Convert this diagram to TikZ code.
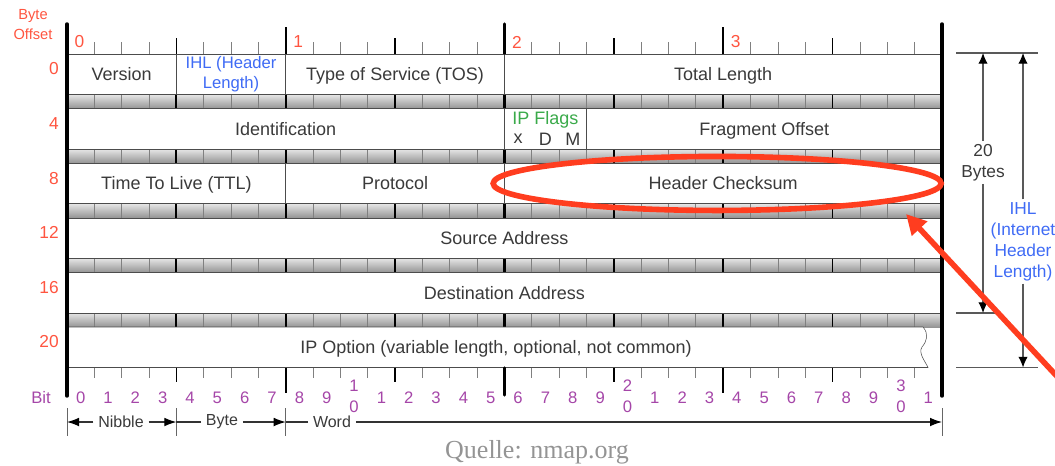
\documentclass[tikz,border=0pt]{standalone}
\usepackage{fontspec}
\setmainfont{Liberation Sans}
\newfontfamily\quellefont{Liberation Serif}
\usetikzlibrary{arrows.meta,positioning,calc}
\definecolor{offred}{HTML}{FF5540}
\definecolor{bitpurple}{HTML}{A546A8}
\definecolor{ihlblue}{HTML}{3F6BF5}
\definecolor{flaggreen}{HTML}{3AAA4A}
\definecolor{ink}{HTML}{3A3A3A}
\definecolor{hlred}{HTML}{FF3D1F}
\newcommand{\bitx}[1]{{67+27.34*(#1)}}
\def\bw{20.505pt}

\begin{document}
\begin{tikzpicture}[x=0.75pt,y=-0.75pt,>=Latex,
 f/.style={draw=black!70,fill=white,inner sep=0pt,minimum height=30.375pt,text=ink,text height=9.7pt,text depth=0pt,font=\fontsize{13.5}{16}\selectfont},
 t/.style={text=ink,font=\fontsize{13.5}{16}\selectfont,inner sep=1pt},
 off/.style={text=offred,font=\fontsize{13}{15}\selectfont,inner sep=0pt},
 bit/.style={text=bitpurple,font=\fontsize{12.5}{14}\selectfont,inner sep=0pt},
 side/.style={text=ink,align=center,font=\fontsize{13}{15.75}\selectfont,inner sep=2pt},
 sa/.style={draw=black!65,line width=.8pt,-{Latex[length=8pt,width=7pt,color=black]}},
 sl/.style={draw=black!65,line width=.8pt},
 dim/.style={text=ink,font=\fontsize{12}{13}\selectfont,inner sep=3.5pt},
 da/.style={draw=black!80,line width=.8pt,-{Latex[length=9pt,width=6.5pt,color=black]}},
 hl/.style={draw=hlred,line width=4.2pt}]
\useasboundingbox (0,0) rectangle (1055,465);

% grey strips between the rows
\foreach \k in {0,...,4}{
  \pgfmathsetmacro\st{94.5+54.6*\k}
  \shade[top color=black!10,bottom color=black!42] (67,\st) rectangle (942,\st+14.1);
  \foreach \b in {1,...,31}{
    \pgfmathtruncatemacro\nib{mod(\b,4)}
    \ifnum\nib=0 \draw[line width=1.3pt] (\bitx{\b},\st) -- (\bitx{\b},\st+14.1);
    \else \draw[black!50,line width=.5pt] (\bitx{\b},\st) -- (\bitx{\b},\st+14.1); \fi
  }
  \draw[line width=2.4pt] (\bitx{16},\st) -- (\bitx{16},\st+14.1);
}

% rows
\node[f,minimum width=4*\bw] (version) at (\bitx{2},74.25) {Version};
\node[f,minimum width=4*\bw,text=ihlblue,align=center,text height=,text depth=,font=\fontsize{12.5}{14.5}\selectfont] (ihl) at (\bitx{6},74.25) {IHL (Header\\Length)};
\node[f,minimum width=8*\bw] (tos) at (\bitx{12},74.25) {Type of Service (TOS)};
\node[f,minimum width=16*\bw] (totlen) at (\bitx{24},74.25) {Total Length};
\node[f,minimum width=16*\bw] (ident) at (\bitx{8},128.85) {Identification};
\node[f,minimum width=3*\bw] (flags) at (\bitx{17.5},128.85) {};
\node[f,minimum width=13*\bw] (fragoff) at (\bitx{25.5},128.85) {Fragment Offset};
\node[t,text=flaggreen] (flagname) at (\bitx{17.5},119.5) {IP Flags};
\node[t] (flagx) at (\bitx{16.5},139) {x};
\node[t] (flagd) at (\bitx{17.5},139) {D};
\node[t] (flagm) at (\bitx{18.5},139) {M};
\node[f,minimum width=8*\bw] (ttl) at (\bitx{4},183.45) {Time To Live (TTL)};
\node[f,minimum width=8*\bw] (proto) at (\bitx{12},183.45) {Protocol};
\node[f,minimum width=16*\bw] (checksum) at (\bitx{24},183.45) {Header Checksum};
\node[f,minimum width=32*\bw] (src) at (\bitx{16},238.05) {Source Address};
\node[f,minimum width=32*\bw] (dst) at (\bitx{16},292.65) {Destination Address};
\draw[draw=black!70,fill=white] (67,327) -- (923,327) .. controls (929,334) and (927,341) .. (922,347)
  .. controls (918,353) and (925,361) .. (928,367.5) -- (67,367.5) -- cycle;
\node[t,text height=9.7pt,text depth=0pt] (ipopt) at (496,347.25) {IP Option (variable length, optional, not common)};

% rulers above and below
\foreach \b in {1,...,31}{
  \pgfmathsetmacro\tl{ifthenelse(mod(\b,8)==0,27,ifthenelse(mod(\b,4)==0,16,12))}
  \pgfmathsetmacro\tw{ifthenelse(mod(\b,8)==0,1.6,ifthenelse(mod(\b,4)==0,1.2,.5))}
  \pgfmathtruncatemacro\tc{ifthenelse(mod(\b,4)==0,100,50)}
  \draw[black!\tc,line width=\tw pt] (\bitx{\b},53.5) -- ++(0,-\tl);
  \draw[black!\tc,line width=\tw pt] (\bitx{\b},367.5) -- ++(0,\tl-2);
}
\draw[line width=2.6pt,line cap=round] (67,24) -- (67,396);
\draw[line width=2.6pt,line cap=round] (942,24) -- (942,396);
\draw[line width=2.6pt,line cap=round] (\bitx{16},24) -- (\bitx{16},53);
\draw[line width=2.6pt,line cap=round] (\bitx{16},368) -- (\bitx{16},395);

% byte offsets
\node[off,align=center,font=\fontsize{11}{15}\selectfont] (byteoff) at (33,25) {Byte\\Offset};
\foreach \i in {0,...,3}
  \node[off] (top\i) at (\bitx{8*\i+0.457},42) {\i};
\foreach \k/\o in {0/0,1/4,2/8,3/12,4/16,5/20}
  \node[off,anchor=east] (row\o) at (59,{54+54.6*\k+15}) {\o};

% bit numbers
\node[bit,anchor=east] (bitname) at (51,398) {Bit};
\foreach \b in {0,...,31}{
  \pgfmathtruncatemacro\d{mod(\b,10)}
  \pgfmathtruncatemacro\tens{\b/10}
  \ifnum\d=0 \ifnum\b>0
    \node[bit] (bit\b) at (\bitx{\b+0.5},386) {\tens};
    \node[bit] (bitz\b) at (\bitx{\b+0.5},407) {0};
  \else \node[bit] (bit\b) at (\bitx{\b+0.5},398) {\d}; \fi
  \else \node[bit] (bit\b) at (\bitx{\b+0.5},398) {\d}; \fi
}

% nibble, byte, word
\coordinate (m0) at (67,422);
\coordinate (m4) at (\bitx{4},422);
\coordinate (m8) at (\bitx{8},422);
\coordinate (m32) at (942,422);
\foreach \c in {m0,m4,m8,m32} \draw[black!60,line width=.7pt] (\c) ++(0,-14) -- ++(0,28);
\node[dim] (nibble) at (121,422) {Nibble};
\node[dim] (byte) at (222,422) {Byte};
\node[dim] (word) at (332,422) {Word};
\draw[da] (nibble) -- (m0); \draw[da] (nibble) -- (m4);
\draw[draw=black!80,line width=.8pt] (byte) -- (m4); \draw[da] (byte) -- (m8);
\draw[draw=black!80,line width=.8pt] (word) -- (m8); \draw[da] (word) -- (m32);

% header length on the right
\coordinate (top20) at (983,53); \coordinate (bot20) at (983,313);
\coordinate (topihl) at (1023,53); \coordinate (botihl) at (1023,367.5);
\draw[sl] (956,53) -- (1038,53);
\draw[sl] (956,313) -- (998,313);
\draw[sl] (956,367.5) -- (1038,367.5);
\node[side] (bytes20) at (983,162.5) {20\\Bytes};
\node[side,text=ihlblue] (ihlside) at (1023,241.5) {IHL\\(Internet\\Header\\Length)};
\draw[sa] (bytes20) -- (top20); \draw[sa] (bytes20) -- (bot20);
\draw[sa] (ihlside) -- (topihl); \draw[sa] (ihlside) -- (botihl);

% highlight
\draw[hl] (checksum.center) ++(-6,0) ellipse [x radius=224, y radius=27];
\coordinate (hlfrom) at (1066,386);
\coordinate (hlto) at (906,214);
\draw[hl,-{Triangle[length=15pt,width=15pt]}] (hlfrom) -- (hlto);

\node[text=black!42,font=\quellefont\fontsize{19.5}{22}\selectfont] (quelle) at (537,452) {Quelle: nmap.org};
\end{tikzpicture}
\end{document}
